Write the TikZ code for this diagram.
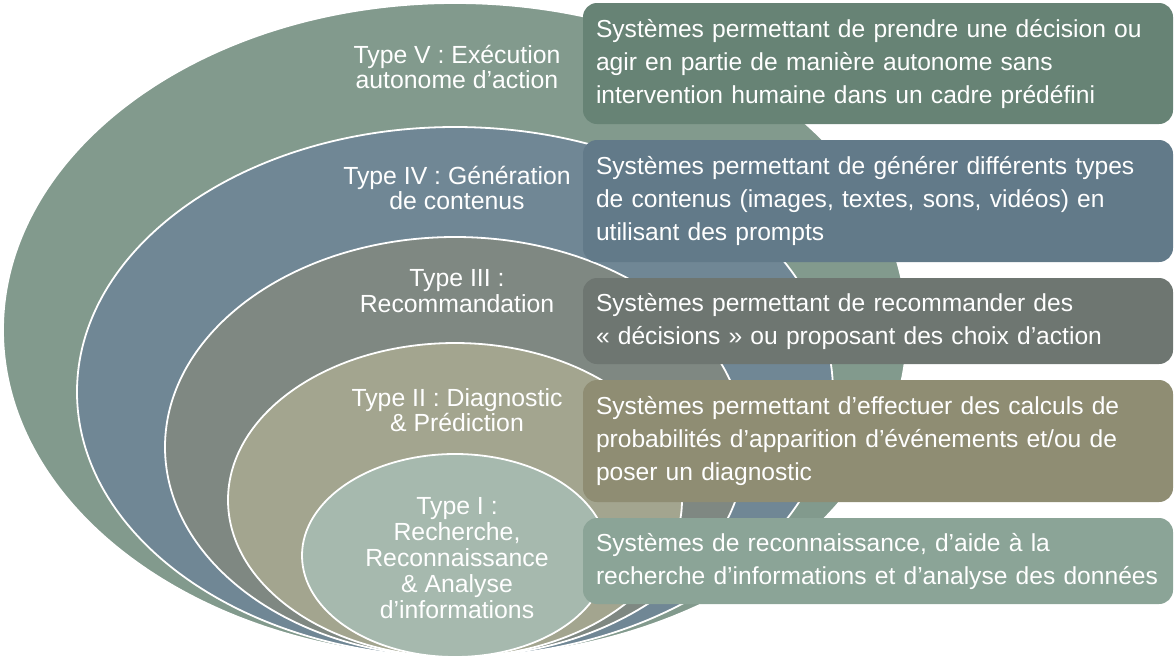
\documentclass[tikz,border=0pt]{standalone}
\usepackage{fontspec}
\setmainfont{Liberation Sans}

\definecolor{ringfive}{HTML}{829A8D}
\definecolor{ringfour}{HTML}{708795}
\definecolor{ringthree}{HTML}{7F8882}
\definecolor{ringtwo}{HTML}{A3A58F}
\definecolor{ringone}{HTML}{A6B9AE}
\definecolor{boxfive}{HTML}{678375}
\definecolor{boxfour}{HTML}{627A89}
\definecolor{boxthree}{HTML}{6E7671}
\definecolor{boxtwo}{HTML}{8F8D73}
\definecolor{boxone}{HTML}{8BA497}

\begin{document}
\begin{tikzpicture}[x=1pt,y=-1pt,
	ring/.style={draw=white,line width=1.8pt},
	typelabel/.style={text=white,align=center,inner sep=0pt,font=\fontsize{24.8}{25.5}\selectfont},
	descbox/.style={text=white,rounded corners=14pt,minimum width=590pt,text width=564pt,
		align=left,inner xsep=13pt,inner ysep=0pt,font=\fontsize{24.6}{33}\selectfont}]
	\useasboundingbox (0,0) rectangle (1176,662);
	
	% nested ellipses, all touching at the bottom
	\filldraw[ring,fill=ringfive]  (455,330)   ellipse [x radius=452,y radius=327];
	\filldraw[ring,fill=ringfour]  (455,392)   ellipse [x radius=378,y radius=265];
	\filldraw[ring,fill=ringthree] (455,447)   ellipse [x radius=290,y radius=210];
	\filldraw[ring,fill=ringtwo]   (455,500)   ellipse [x radius=227,y radius=157];
	\filldraw[ring,fill=ringone]   (455,555.5) ellipse [x radius=153,y radius=101.5];
	
	\node[typelabel] (typefive)  at (457,67)  {Type V : Exécution\\autonome d’action};
	\node[typelabel] (typefour)  at (457,188) {Type IV : Génération\\de contenus};
	\node[typelabel] (typethree) at (457,291) {Type III :\\Recommandation};
	\node[typelabel] (typetwo)   at (457,410) {Type II : Diagnostic\\\& Prédiction};
	\node[typelabel,font=\fontsize{24.8}{26}\selectfont] (typeone) at (457,558)
		{Type I :\\Recherche,\\Reconnaissance\\\& Analyse\\d’informations};
	
	% descriptions
	\node[descbox,fill=boxfive,minimum height=121pt] (descfive) at (878,63.5)
		{Systèmes permettant de prendre une décision ou\\agir en partie de manière autonome sans\\intervention humaine dans un cadre prédéfini};
	\node[descbox,fill=boxfour,minimum height=122pt] (descfour) at (878,201)
		{Systèmes permettant de générer différents types\\de contenus (images, textes, sons, vidéos) en\\utilisant des prompts};
	\node[descbox,fill=boxthree,minimum height=86pt] (descthree) at (878,321)
		{Systèmes permettant de recommander des\\« décisions » ou proposant des choix d’action};
	\node[descbox,fill=boxtwo,minimum height=122pt] (desctwo) at (878,441)
		{Systèmes permettant d’effectuer des calculs de\\probabilités d’apparition d’événements et/ou de\\poser un diagnostic};
	\node[descbox,fill=boxone,minimum height=86pt] (descone) at (878,561)
		{Systèmes de reconnaissance, d’aide à la\\recherche d’informations et d’analyse des données};
\end{tikzpicture}
\end{document}
